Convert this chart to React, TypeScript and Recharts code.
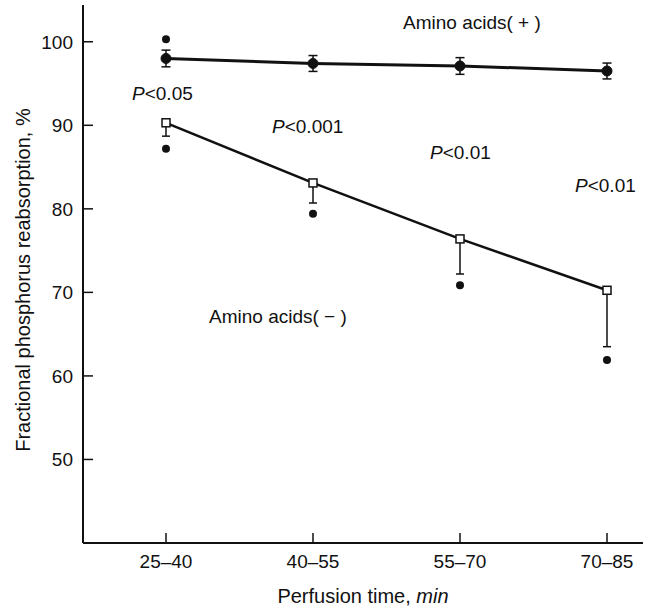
import { LineChart, Line, XAxis, YAxis, ErrorBar, Label } from 'recharts';

const categories = ['25–40', '40–55', '55–70', '70–85'];
const aminoPlus = [98.0, 97.4, 97.1, 96.5];
const aminoPlusErr = [1.0, 0.95, 1.0, 0.95];
const aminoMinus = [90.3, 83.1, 76.4, 70.25];
const aminoMinusErr = [1.6, 2.4, 4.2, 6.75];
const upperPoints = [100.3, null, null, null];
const lowerPoints = [87.2, 79.4, 70.85, 61.9];
const yTicks = [50, 60, 70, 80, 90, 100];

const chartData = categories.map((c, i) => ({
  time: c,
  plus: aminoPlus[i],
  plusErr: aminoPlusErr[i],
  minus: aminoMinus[i],
  minusErr: [aminoMinusErr[i], 0],
  upper: upperPoints[i],
  lower: lowerPoints[i],
}));

const FONT = '"Liberation Sans", Arial, Helvetica, sans-serif';

const SquareDot = (props: any) => {
  const { cx, cy, index } = props;
  if (cx == null || cy == null) return null;
  return <rect key={`sq-${index}`} x={cx - 4} y={cy - 4} width={8} height={8} fill="#fff" stroke="#111" strokeWidth={1.5} />;
};

const XTitle = (props: any) => {
  const { viewBox } = props;
  const cx = viewBox.x + viewBox.width / 2;
  return (
    <text x={cx} y={603} textAnchor="middle" fontSize={20} fill="#111" fontFamily={FONT}>
      Perfusion time, <tspan fontStyle="italic">min</tspan>
    </text>
  );
};

export default function App() {
  return (
    <div style={{ position: 'absolute', left: 0, top: 0, background: '#fff', fontFamily: FONT }}>
      <LineChart width={651} height={608} data={chartData} margin={{ top: 5, right: 8, left: 0, bottom: 0 }}>
        <XAxis
          dataKey="time"
          padding={{ left: 83, right: 36 }}
          height={65}
          axisLine={{ stroke: '#111', strokeWidth: 2 }}
          tickLine={{ stroke: '#111', strokeWidth: 1.5 }}
          tickSize={-10}
          tickMargin={22}
          tick={{ fill: '#111', fontSize: 19, fontFamily: FONT }}
        >
          <Label content={<XTitle />} />
        </XAxis>
        <YAxis
          type="number"
          domain={[40, 104.4]}
          ticks={yTicks}
          width={83}
          axisLine={{ stroke: '#111', strokeWidth: 2 }}
          tickLine={{ stroke: '#111', strokeWidth: 1.5 }}
          tickSize={-10}
          tickMargin={20}
          tick={{ fill: '#111', fontSize: 19, fontFamily: FONT }}
        >
          <Label
            value="Fractional phosphorus reabsorption, %"
            angle={-90}
            position="center"
            dx={-19}
            dy={6}
            style={{ fontSize: 20, fill: '#111', fontFamily: FONT, textAnchor: 'middle' }}
          />
        </YAxis>

        {/* amino acids (+) */}
        <Line
          dataKey="plus"
          stroke="#111"
          strokeWidth={3}
          dot={{ r: 5, fill: '#111', stroke: '#111', strokeWidth: 1 }}
          activeDot={false}
          isAnimationActive={false}
        >
          <ErrorBar dataKey="plusErr" direction="y" width={4.5} stroke="#111" strokeWidth={1.5} />
        </Line>

        {/* amino acids (-) */}
        <Line
          dataKey="minus"
          stroke="#111"
          strokeWidth={2.5}
          dot={<SquareDot />}
          activeDot={false}
          isAnimationActive={false}
        >
          <ErrorBar dataKey="minusErr" direction="y" width={4} stroke="#111" strokeWidth={1.5} />
        </Line>

        <Line
          dataKey="upper"
          stroke="none"
          dot={{ r: 4, fill: '#111', stroke: '#111', strokeWidth: 0 }}
          activeDot={false}
          isAnimationActive={false}
        />
        <Line
          dataKey="lower"
          stroke="none"
          dot={{ r: 4, fill: '#111', stroke: '#111', strokeWidth: 0 }}
          activeDot={false}
          isAnimationActive={false}
        />

        <g fontFamily={FONT} fontSize={19} fill="#111">
          <text x={403} y={29}>Amino acids( + )</text>
          <text x={132} y={100}><tspan fontStyle="italic">P</tspan>&lt;0.05</text>
          <text x={272} y={133}><tspan fontStyle="italic">P</tspan>&lt;0.001</text>
          <text x={430} y={159}><tspan fontStyle="italic">P</tspan>&lt;0.01</text>
          <text x={575} y={192}><tspan fontStyle="italic">P</tspan>&lt;0.01</text>
          <text x={209} y={323}>Amino acids( − )</text>
        </g>
      </LineChart>
    </div>
  );
}
